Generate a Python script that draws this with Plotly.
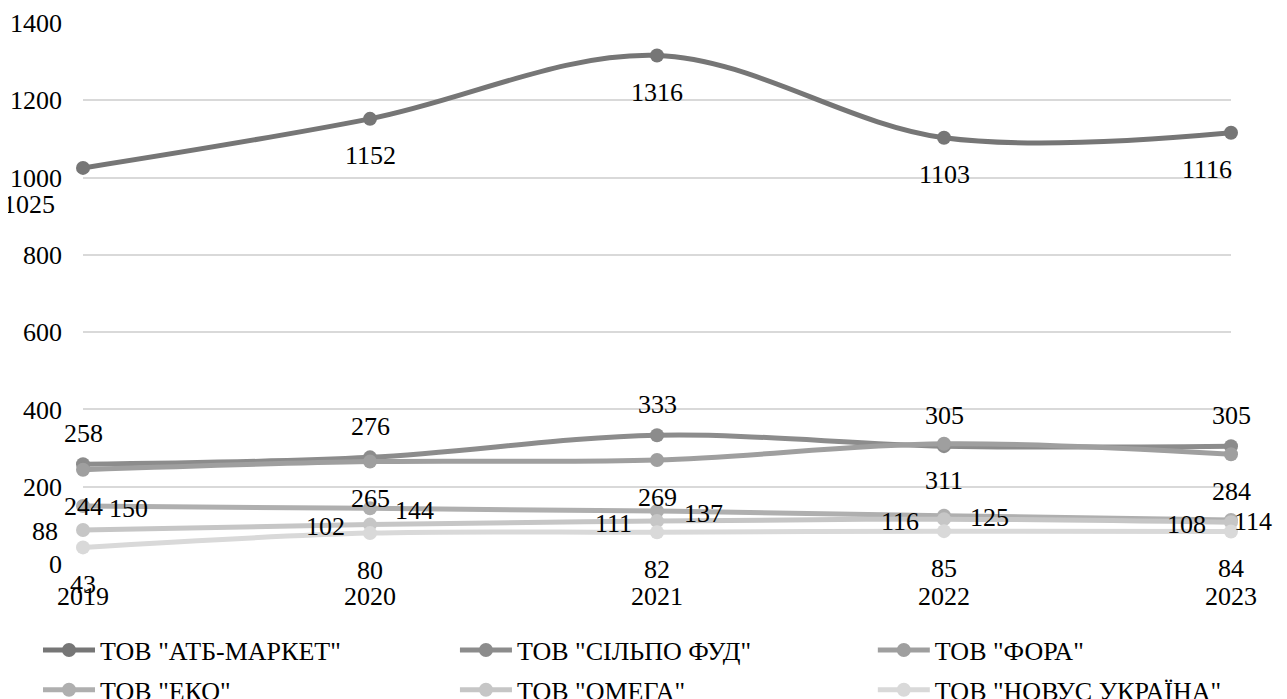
import plotly.graph_objects as go

years = [2019, 2020, 2021, 2022, 2023]
series_names = ['ТОВ "АТБ-МАРКЕТ"', 'ТОВ "СІЛЬПО ФУД"', 'ТОВ "ФОРА"',
                'ТОВ "ЕКО"', 'ТОВ "ОМЕГА"', 'ТОВ "НОВУС УКРАЇНА"']
atb = [1025, 1152, 1316, 1103, 1116]
silpo = [258, 276, 333, 305, 305]
fora = [244, 265, 269, 311, 284]
eko = [150, 144, 137, 125, 114]
omega = [88, 102, 111, 116, 108]
novus = [43, 80, 82, 85, 84]
y_ticks = [0, 200, 400, 600, 800, 1000, 1200, 1400]

values = [atb, silpo, fora, eko, omega, novus]
colors = ["#767676", "#8c8c8c", "#9f9f9f", "#afafaf", "#c6c6c6", "#d9d9d9"]
FONT = "Times New Roman"

# label placement style per series: (xanchor, xshifts per point, yshift)
label_style = [
    ("center", [-54, 0, 0, 0, -24], -37),
    ("center", [0, 0, 0, 0, 0], 31),
    ("center", [0, 0, 0, 0, 0], -37),
    ("left", [24, 23, 25, 24, 1], -2),
    ("right", [-23, -23, -23, -23, -23], -2),
    ("center", [0, 0, 0, 0, 0], -37),
]
# legend columns: each column holds two series (top row, bottom row)
legend_of = ["legend", "legend2", "legend3", "legend", "legend2", "legend3"]

fig = go.Figure()
for i, (name, vals, col) in enumerate(zip(series_names, values, colors)):
    fig.add_trace(go.Scatter(
        x=years, y=vals, name=name, mode="lines+markers",
        line=dict(color=col, width=5, shape="spline", smoothing=1.0),
        marker=dict(color=col, size=14),
        cliponaxis=False,
        legend=legend_of[i], legendgroup=f"g{i}",
    ))

annotations = []
for i, vals in enumerate(values):
    xa, xs, ys = label_style[i]
    for j, (yr, v) in enumerate(zip(years, vals)):
        annotations.append(dict(
            x=yr, y=v, text=str(v), showarrow=False,
            xanchor=xa, yanchor="middle", xshift=xs[j], yshift=ys,
            font=dict(family=FONT, size=26, color="#000000"),
        ))

legend_common = dict(
    orientation="v", xanchor="left", yanchor="middle", y=-0.196,
    font=dict(family=FONT, size=26, color="#000000"),
    itemwidth=52, tracegroupgap=3,
    bgcolor="rgba(0,0,0,0)",
)

fig.update_layout(
    width=1287, height=699,
    margin=dict(l=75, r=64, t=15, b=143, autoexpand=False),
    paper_bgcolor="white", plot_bgcolor="white",
    font=dict(family=FONT, size=26, color="#000000"),
    showlegend=True,
    legend=dict(x=-0.0392, **legend_common),
    legend2=dict(x=0.324, **legend_common),
    legend3=dict(x=0.688, **legend_common),
    annotations=annotations,
    xaxis=dict(
        range=[2019, 2023], tickvals=years, ticktext=[str(y) for y in years],
        showgrid=False, zeroline=False, showline=False,
        tickfont=dict(family=FONT, size=26, color="#000000"),
        ticklabelstandoff=14,
    ),
    yaxis=dict(
        range=[0, 1400], tickvals=y_ticks,
        showgrid=True, gridcolor="#d9d9d9", gridwidth=1.5,
        zeroline=False, showline=False,
        tickfont=dict(family=FONT, size=26, color="#000000"),
        ticklabelstandoff=20,
    ),
)

fig.write_html("out.html")
